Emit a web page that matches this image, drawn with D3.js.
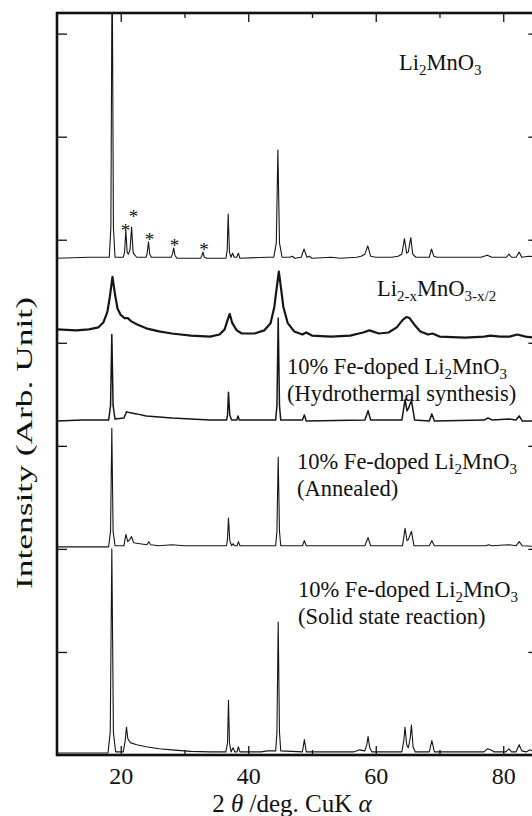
<!DOCTYPE html>
<html>
<head>
<meta charset="utf-8">
<script src="https://cdn.jsdelivr.net/npm/d3@7/dist/d3.min.js"></script>
<style>
  body { margin: 0; background: #fff; }
  svg { display: block; font-family: "Liberation Serif", "DejaVu Serif", serif; }
</style>
</head>
<body>
<div id="chart"></div>
<script>
// x ticks (2 theta, deg)
const majorTicks = [20, 40, 60, 80];
const minorTicks = [30, 50, 70];
// y ticks, arbitrary units
const yTicks = [100, 200, 300, 400, 500, 600, 700];

// vertical offset of each pattern (arb. units)
const offsets = [482, 405, 324, 202, 2];

// [2theta, intensity above own baseline]
const li2mno3 = [
  [10, 0], [15, 1], [18.2, 1], [18.45, 30], [18.65, 300], [18.85, 30], [19.1, 1],
  [20.4, 1], [20.6, 6], [20.8, 27], [21.0, 6], [21.2, 4], [21.45, 8], [21.7, 30], [21.95, 5],
  [22.5, 1], [24, 1], [24.15, 5], [24.35, 16], [24.55, 4], [24.8, 1],
  [27.9, 1], [28.1, 4], [28.3, 10], [28.5, 3], [28.8, 0],
  [32.5, 0], [32.7, 2], [32.9, 6], [33.1, 1], [33.5, 0],
  [36.5, 0], [36.7, 8], [36.85, 43], [37.05, 6], [37.3, 1], [37.55, 5], [37.8, 1],
  [38.2, 1], [38.45, 5], [38.7, 0], [43, 1], [44.0, 1], [44.4, 15], [44.65, 105],
  [44.9, 15], [45.3, 1], [46.5, 1], [46.9, 2], [47.3, 0], [48.3, 1], [48.75, 9],
  [49.2, 1], [49.6, 2], [50, 0], [53, 1], [54.5, 0], [57, 1], [57.7, 2], [58.3, 4],
  [58.75, 12], [59.2, 2], [60, 1], [62.5, 1], [63.5, 2], [64.1, 4], [64.5, 19],
  [64.85, 5], [65.1, 6], [65.5, 20], [65.8, 4], [66.3, 1], [68.4, 1], [68.75, 9],
  [69.1, 2], [69.6, 1], [76.5, 1], [77.5, 3], [78.2, 1], [80.5, 1], [80.9, 4],
  [81.3, 1], [82, 1], [82.5, 6], [82.9, 1], [84, 2], [86, 1],
];

const li2xmno3 = [
  [10, 8], [13, 7], [15, 8], [16.5, 10], [17.3, 15], [17.9, 25], [18.3, 40],
  [18.7, 59], [19.1, 42], [19.5, 28], [20, 22], [20.6, 19], [21.1, 19], [21.6, 16],
  [22.5, 13], [24, 9], [26, 6], [28, 4], [31, 2], [34, 1], [35.5, 3], [36.3, 8],
  [36.8, 18], [37.1, 23], [37.5, 14], [38.2, 7], [39, 4], [41, 4], [42.5, 7],
  [43.5, 14], [44.1, 30], [44.5, 50], [44.8, 64], [45.1, 50], [45.5, 30], [46.2, 14],
  [47.2, 6], [48.5, 3], [49.1, 5], [50, 2], [53, 1], [56, 2], [58, 5], [59, 7],
  [60.5, 4], [62, 5], [63.3, 10], [64.2, 17], [64.8, 20], [65.3, 19], [66, 13],
  [67, 6], [68.2, 3], [68.9, 4], [70, 1], [74, 0], [77, 1], [78, 2], [79.5, 1],
  [81, 1], [82.2, 3], [83.5, 1], [86, -1],
];

const hydrothermal = [
  [10, 0], [14, 1], [18.1, 1], [18.4, 15], [18.6, 84], [18.8, 15], [19.1, 2],
  [20.5, 3], [20.9, 9], [21.5, 8], [22.5, 7], [24, 5], [26, 4], [28, 3], [31, 2],
  [34, 1], [36.6, 1], [36.75, 6], [36.9, 28], [37.1, 6], [37.4, 1], [38.2, 1],
  [38.4, 5], [38.6, 1], [44.3, 1], [44.5, 15], [44.7, 100], [44.9, 15], [45.1, 1],
  [48.5, 1], [48.8, 6], [49.1, 0], [58.3, 1], [58.8, 10], [59.2, 1], [64.1, 1],
  [64.6, 21], [64.9, 10], [65.1, 12], [65.6, 20], [66.1, 1], [68.4, 0], [68.8, 7],
  [69.2, 0], [77, 1], [77.6, 3], [78.3, 1], [80.9, 2], [82, 1], [82.5, 5], [83, 0],
  [86, 0],
];

const annealed = [
  [10, 0], [18.1, 0], [18.4, 15], [18.6, 115], [18.8, 15], [19.1, 1], [20.5, 1],
  [20.8, 12], [21.1, 5], [21.4, 7], [21.7, 10], [22, 4], [23, 3], [24.1, 2],
  [24.4, 5], [24.7, 2], [26, 1], [28, 2], [30, 1], [36.6, 1], [36.75, 8], [36.9, 28],
  [37.1, 6], [37.4, 1], [37.6, 3], [37.9, 1], [38.25, 1], [38.45, 5], [38.7, 1],
  [44.3, 1], [44.5, 15], [44.7, 87], [44.9, 15], [45.1, 1], [48.5, 1], [48.8, 6],
  [49.1, 1], [58.3, 1], [58.8, 9], [59.2, 1], [64.2, 1], [64.6, 18], [64.9, 6],
  [65.1, 7], [65.6, 15], [66, 1], [68.4, 1], [68.8, 6], [69.2, 1], [77.3, 1],
  [77.7, 2], [78.2, 1], [80.9, 2], [82, 1], [82.5, 5], [83, 1], [86, 0],
];

const solidState = [
  [10, 0], [18.0, 0], [18.35, 20], [18.6, 198], [18.85, 20], [19.2, 1], [20.4, 1],
  [20.7, 12], [20.9, 25], [21.1, 14], [21.5, 10], [22.5, 8], [24, 6], [26, 4],
  [28, 3], [31, 1.5], [34, 1], [36.5, 1], [36.75, 10], [36.9, 51], [37.05, 10],
  [37.3, 1], [37.6, 5], [37.9, 1], [38.25, 1], [38.45, 6], [38.7, 1], [42, 1],
  [43, 2], [44.3, 2], [44.5, 20], [44.7, 127], [44.9, 20], [45.1, 2], [48.5, 1],
  [48.8, 13], [49.1, 1], [56.5, 1], [57.5, 3], [58.3, 2], [58.6, 8], [58.8, 16],
  [59.05, 5], [59.4, 1], [64.1, 1], [64.4, 12], [64.6, 25], [64.85, 8], [65.1, 5],
  [65.4, 14], [65.6, 27], [65.85, 6], [66.2, 1], [68.4, 1], [68.8, 12], [69.2, 1],
  [77, 1], [77.5, 4], [78, 3], [78.6, 1], [80.4, 1], [80.9, 4], [81.3, 1], [82, 1],
  [82.5, 8], [82.9, 2], [83.6, 1], [84.2, 3], [84.8, 1], [86, 1],
];

const patterns = [li2mno3, li2xmno3, hydrothermal, annealed, solidState];

// impurity peaks marked with * on the Li2MnO3 pattern: [2theta, height of mark]
const starMarks = [[20.75, 32], [22.0, 45], [24.5, 23], [28.45, 17], [33.05, 13]];

function draw() {
  const dimensions = {
    width: 532,
    height: 816,
    left: 57,
    right: 538.3,
    top: 13,
    bottom: 755,
  };

  const strokeWidths = [1.1, 2.2, 1.5, 1.1, 1.1];

  const xScale = d3
    .scaleLinear()
    .domain([10, 85.5])
    .range([dimensions.left, dimensions.right]);
  const yScale = d3
    .scaleLinear()
    .domain([0, 720])
    .range([dimensions.bottom, dimensions.top]);

  const svg = d3
    .select("#chart")
    .append("svg")
    .attr("width", dimensions.width)
    .attr("height", dimensions.height);

  svg
    .append("clipPath")
    .attr("id", "plot-clip")
    .append("rect")
    .attr("x", dimensions.left)
    .attr("y", dimensions.top)
    .attr("width", dimensions.right - dimensions.left)
    .attr("height", dimensions.bottom - dimensions.top);

  // patterns
  const traces = svg.append("g").attr("clip-path", "url(#plot-clip)");
  patterns.forEach((pts, i) => {
    const line = d3
      .line()
      .x((d) => xScale(d[0]))
      .y((d) => yScale(d[1] + offsets[i]));
    traces
      .append("path")
      .attr("d", line(pts))
      .attr("fill", "none")
      .attr("stroke", "#161616")
      .attr("stroke-width", strokeWidths[i])
      .attr("stroke-linejoin", "round");
  });

  // stars
  svg
    .append("g")
    .selectAll("text")
    .data(starMarks)
    .join("text")
    .attr("x", (d) => xScale(d[0]))
    .attr("y", (d) => yScale(d[1] + offsets[0]))
    .attr("dy", "0.6em")
    .attr("text-anchor", "middle")
    .attr("font-size", 19)
    .attr("fill", "#111")
    .text("*");

  // axes, ticks pointing inward
  const axisStyle = (g) => {
    g.select(".domain").remove();
    g.selectAll(".tick line").attr("stroke", "#111").attr("stroke-width", 1.3);
  };

  svg
    .append("g")
    .attr("transform", `translate(0, ${dimensions.bottom})`)
    .call(d3.axisBottom(xScale).tickValues(majorTicks).tickSize(-9).tickPadding(12).tickFormat(d3.format("d")))
    .call(axisStyle)
    .call((g) =>
      g.selectAll(".tick text").attr("font-size", 24).attr("fill", "#111").attr("font-family", "Liberation Serif")
    );
  svg
    .append("g")
    .attr("transform", `translate(0, ${dimensions.bottom})`)
    .call(d3.axisBottom(xScale).tickValues(minorTicks).tickSize(-5).tickFormat(""))
    .call(axisStyle);
  svg
    .append("g")
    .attr("transform", `translate(0, ${dimensions.top})`)
    .call(d3.axisTop(xScale).tickValues(majorTicks).tickSize(-9).tickFormat(""))
    .call(axisStyle);
  svg
    .append("g")
    .attr("transform", `translate(0, ${dimensions.top})`)
    .call(d3.axisTop(xScale).tickValues(minorTicks).tickSize(-5).tickFormat(""))
    .call(axisStyle);
  svg
    .append("g")
    .attr("transform", `translate(${dimensions.left}, 0)`)
    .call(d3.axisLeft(yScale).tickValues(yTicks).tickSize(-10).tickFormat(""))
    .call(axisStyle);
  svg
    .append("g")
    .attr("transform", `translate(${dimensions.right}, 0)`)
    .call(d3.axisRight(yScale).tickValues(yTicks).tickSize(-10).tickFormat(""))
    .call(axisStyle);

  // frame
  svg
    .append("rect")
    .attr("x", dimensions.left)
    .attr("y", dimensions.top)
    .attr("width", dimensions.right - dimensions.left)
    .attr("height", dimensions.bottom - dimensions.top)
    .attr("fill", "none")
    .attr("stroke", "#111")
    .attr("stroke-width", 2.6);

  // axis titles
  const xTitle = svg
    .append("text")
    .attr("x", 292)
    .attr("y", 812)
    .attr("text-anchor", "middle")
    .attr("font-size", 25)
    .attr("fill", "#111");
  xTitle.append("tspan").text("2 ");
  xTitle.append("tspan").attr("font-style", "italic").text("θ");
  xTitle.append("tspan").text(" /deg. CuK ");
  xTitle.append("tspan").attr("font-style", "italic").text("α");

  // the y title is drawn stretched along its reading direction
  svg
    .append("text")
    .attr("transform", "translate(32, 443) rotate(-90)")
    .attr("text-anchor", "middle")
    .attr("font-size", 24)
    .attr("textLength", 292)
    .attr("lengthAdjust", "spacingAndGlyphs")
    .attr("fill", "#111")
    .text("Intensity (Arb. Unit)");

  // sample labels: parts are [text, isSubscript]
  const formula = [["Li", 0], ["2", 1], ["MnO", 0], ["3", 1]];
  const labels = [
    { x: 399, y: 70, lines: [formula] },
    { x: 377, y: 296, lines: [[["Li", 0], ["2-x", 1], ["MnO", 0], ["3-x/2", 1]]] },
    { x: 287, y: 374, lines: [[["10% Fe-doped ", 0], ...formula], [["(Hydrothermal synthesis)", 0]]] },
    { x: 297, y: 469, lines: [[["10% Fe-doped ", 0], ...formula], [["(Annealed)", 0]]] },
    { x: 298, y: 597, lines: [[["10% Fe-doped ", 0], ...formula], [["(Solid state reaction)", 0]]] },
  ];

  labels.forEach((lab) => {
    const t = svg
      .append("text")
      .attr("x", lab.x)
      .attr("y", lab.y)
      .attr("font-size", 22.5)
      .attr("fill", "#111");
    lab.lines.forEach((parts, li) => {
      let shift = 0;
      parts.forEach(([s, sub], k) => {
        const span = t.append("tspan").text(s);
        if (k === 0 && li > 0) span.attr("x", lab.x).attr("dy", 21.5 - shift);
        if (sub && !shift) {
          span.attr("font-size", 15).attr("dy", 5);
          shift = 5;
        } else if (sub) {
          span.attr("font-size", 15);
        } else if (shift && k > 0) {
          span.attr("dy", -5);
          shift = 0;
        }
      });
    });
  });
}

draw();
</script>
</body>
</html>
